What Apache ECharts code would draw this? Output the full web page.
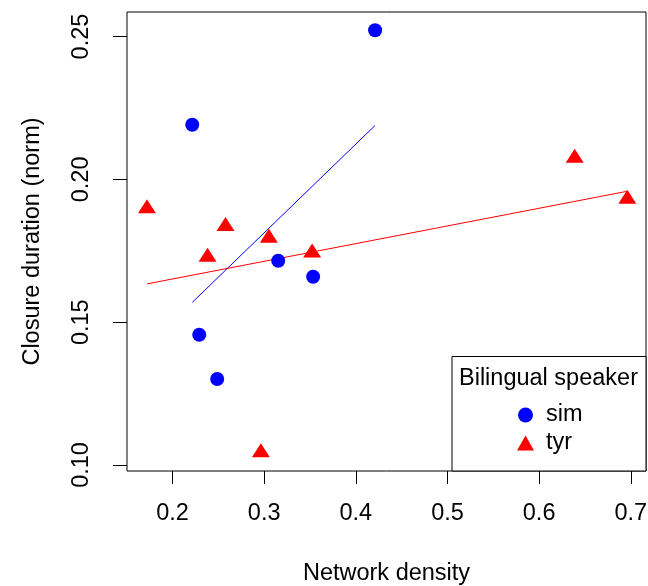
<!DOCTYPE html>
<html>
<head>
<meta charset="utf-8">
<script src="https://cdn.jsdelivr.net/npm/echarts@6/dist/echarts.min.js"></script>
<style>html,body{margin:0;padding:0;background:#fff}#c{width:648px;height:586px}</style>
</head>
<body>
<div id="c"></div>
<script>
const simX = [0.4210, 0.2215, 0.3153, 0.3534, 0.2291, 0.2487];
const simY = [0.2522, 0.2191, 0.1715, 0.1659, 0.1456, 0.1301];
const tyrX = [0.1721, 0.2578, 0.2382, 0.3051, 0.3523, 0.2964, 0.6388, 0.6962];
const tyrY = [0.1898, 0.1836, 0.1728, 0.1795, 0.1743, 0.1044, 0.2075, 0.1931];
const xTicks = [0.2, 0.3, 0.4, 0.5, 0.6, 0.7];
const yTicks = [0.10, 0.15, 0.20, 0.25];
const groups = ['sim', 'tyr'];
const legendTitle = 'Bilingual speaker';
const xName = 'Network density';
const yName = 'Closure duration (norm)';

function fit(xs, ys) {
  const n = xs.length;
  const mx = xs.reduce((a, b) => a + b, 0) / n;
  const my = ys.reduce((a, b) => a + b, 0) / n;
  let sxy = 0, sxx = 0;
  for (let i = 0; i < n; i++) { sxy += (xs[i] - mx) * (ys[i] - my); sxx += (xs[i] - mx) ** 2; }
  const b = sxy / sxx, a = my - b * mx;
  const x0 = Math.min(...xs), x1 = Math.max(...xs);
  return [[x0, a + b * x0], [x1, a + b * x1]];
}
const pts = (xs, ys) => xs.map((x, i) => [x, ys[i]]);

const FONT = 'Liberation Sans, Arial, sans-serif';
const FS = 23.5;
const chart = echarts.init(document.getElementById('c'), null, { renderer: 'canvas' });
chart.setOption({
  animation: false,
  backgroundColor: '#fff',
  textStyle: { fontFamily: FONT, color: '#000' },
  grid: { left: 127, right: 2, top: 12, bottom: 115, show: true, borderColor: '#000', borderWidth: 1, backgroundColor: 'transparent', containLabel: false, outerBoundsMode: 'none' },
  xAxis: {
    type: 'value', min: 0.1503, max: 0.7166,
    axisLine: { show: false },
    splitLine: { show: false },
    axisTick: { show: true, customValues: xTicks, length: 13, lineStyle: { color: '#000', width: 1 } },
    axisLabel: { customValues: xTicks, formatter: v => v.toFixed(1), margin: 31, fontSize: FS, color: '#000', fontFamily: FONT },
    name: xName, nameLocation: 'middle', nameGap: 91,
    nameTextStyle: { fontSize: FS, color: '#000', fontFamily: FONT }
  },
  yAxis: {
    type: 'value', min: 0.0979, max: 0.2586,
    axisLine: { show: false },
    splitLine: { show: false },
    axisTick: { show: true, customValues: yTicks, length: 14, lineStyle: { color: '#000', width: 1 } },
    axisLabel: { customValues: yTicks, formatter: v => v.toFixed(2), rotate: 90, margin: 33, fontSize: FS, color: '#000', fontFamily: FONT },
    name: yName, nameLocation: 'middle', nameGap: 82,
    nameTextStyle: { fontSize: FS, color: '#000', fontFamily: FONT }
  },
  legend: {
    data: [{ name: groups[0], icon: 'circle' }, { name: groups[1], icon: 'triangle' }],
    orient: 'vertical', left: 517, top: 403, padding: 0,
    itemWidth: 17, itemHeight: 15, itemGap: 4,
    selectedMode: false,
    textStyle: { fontSize: FS, lineHeight: 23, color: '#000', fontFamily: FONT, padding: [0, 0, 0, 7] },
    z: 10
  },
  graphic: [
    { type: 'rect', shape: { x: 452, y: 356.5, width: 194, height: 114.5 }, style: { fill: '#fff', stroke: '#000', lineWidth: 1 }, z: 5 },
    { type: 'text', x: 459, y: 379, style: { text: legendTitle, fontSize: FS, fontFamily: FONT, fill: '#000', verticalAlign: 'middle', align: 'left' }, z: 6 }
  ],
  series: [
    { name: groups[0], type: 'scatter', data: pts(simX, simY), symbol: 'circle', symbolSize: 14, itemStyle: { color: '#0000FF', opacity: 1 }, z: 3 },
    { name: groups[1], type: 'scatter', data: pts(tyrX, tyrY), symbol: 'triangle', symbolSize: [18, 14], symbolOffset: [0, -2.3], itemStyle: { color: '#FF0000', opacity: 1 }, z: 3 },
    { name: groups[0] + ' fit', type: 'line', data: fit(simX, simY), showSymbol: false, lineStyle: { color: '#0000FF', width: 1 }, z: 2 },
    { name: groups[1] + ' fit', type: 'line', data: fit(tyrX, tyrY), showSymbol: false, lineStyle: { color: '#FF0000', width: 1 }, z: 2 }
  ]
});
</script>
</body>
</html>
